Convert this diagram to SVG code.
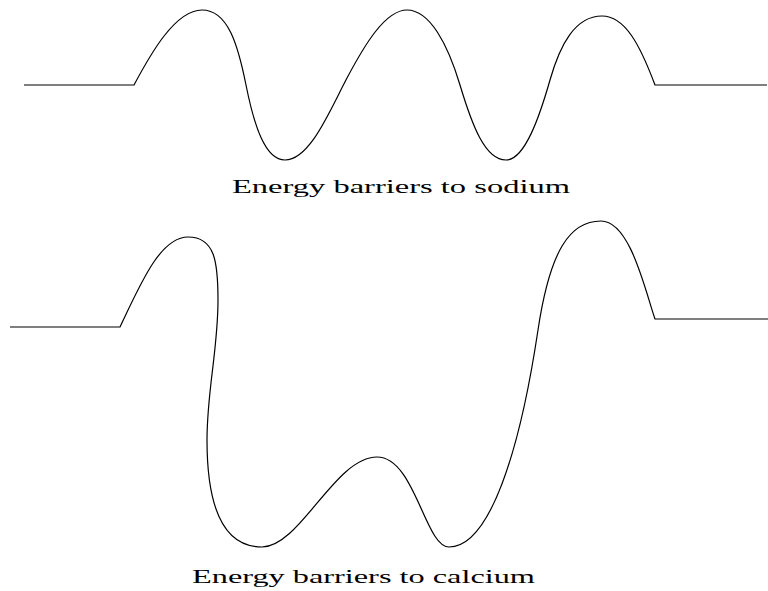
<svg xmlns="http://www.w3.org/2000/svg" width="768" height="591" viewBox="0 0 768 591">
<style>
.curve{fill:none;stroke:#000;stroke-width:1.2;stroke-linejoin:miter}
.label{font-family:"Liberation Serif","Times New Roman",serif;font-size:18px;fill:#000}
</style>
<rect width="768" height="591" fill="#fff"/>
<g id="connectors">
<path id="sodium-profile" class="curve" d="M24,85 H134 C150,55 175,10 202,10 C228,10 238,45 246,85 S265,160 285,160 C310,160 330,110 347,78 S385,10 407,10 C430,10 448,45 460,85 S485,160 506,160 C525,160 540,115 550,80 S575,16 602,16 C625,16 640,45 655,85 H767"/>
<path id="calcium-profile" class="curve" d="M10,327 H120 C140,285 160,237 188,237 C215,237 218,262 218,300 C218,350 207,390 207,440 C207,520 230,547 262,547 C300,547 335,457 377,457 C415,457 425,547 449,547 C490,547 520,450 538,330 C550,250 570,221 601,221 C630,221 645,290 655,319 H768"/>
</g>
<g id="label-sodium">
<text class="label" x="232" y="193" textLength="338" lengthAdjust="spacingAndGlyphs">Energy barriers to sodium</text>
</g>
<g id="label-calcium">
<text class="label" x="192" y="583" textLength="343" lengthAdjust="spacingAndGlyphs">Energy barriers to calcium</text>
</g>
</svg>
